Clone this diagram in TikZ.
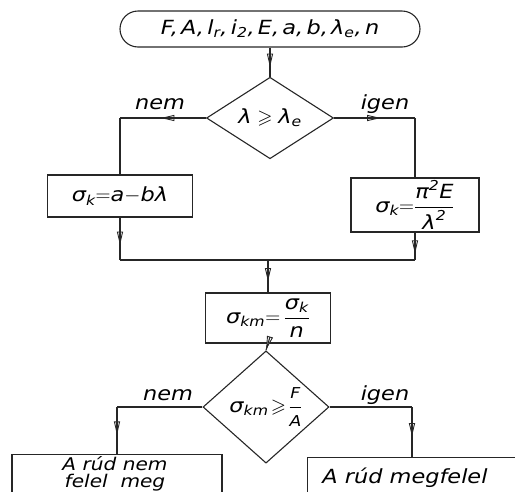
\documentclass[tikz,border=0pt]{standalone}
\usepackage{amsmath,amssymb}
\usepackage{fontspec}
\setmainfont{DejaVu Sans}
\usetikzlibrary{shapes.geometric,decorations.markings}
\newcommand\tx[1]{\text{#1}}
\newcommand\sm[1]{\text{\fontsize{15}{15}\selectfont #1}}
\newcommand\myfont{\fontsize{19.5}{22}\selectfont\itshape\addfontfeature{FakeStretch=1.15}}
\tikzset{
  lbl/.style={font=\myfont},
  ln/.style={line width=1.1pt, draw=black!85},
  boxnode/.style={draw=black!85, line width=1.1pt, inner sep=0pt, font=\myfont, align=center},
  decnode/.style={draw=black!85, line width=1.1pt, diamond, inner sep=0pt, font=\myfont},
  marr/.style={ln, postaction={decorate}, decoration={markings, mark=at position #1 with {\draw[line width=0.9pt, draw=black!85, fill=white] (-11pt,-2.6pt) -- (0pt,0pt) -- (-11pt,2.6pt) -- cycle; \draw[line width=1.1pt, draw=black!85] (-11pt,0pt) -- (0pt,0pt);}}}
}
\begin{document}
\begin{tikzpicture}[x=1pt,y=-1pt]
\useasboundingbox (0,0) rectangle (515,491);
\clip (0,0) rectangle (515,491);
% nodes
\node[boxnode, rounded corners=18pt, minimum width=300pt, minimum height=36pt] (start) at (270,29) {F,\,A,\,l\textsubscript{r},\,i\textsubscript{2},\,E,\,a,\,b,\,λ\textsubscript{e},\,n};
\node[decnode, minimum width=127pt, minimum height=54pt] (d1) at (270,118) {$\tx{λ}\geqslant\tx{λ}_{\tx{e}}$};
\node[boxnode, minimum width=145pt, minimum height=42pt] (b1) at (120,196) {$\tx{σ}_{\tx{k}}{=}\tx{a}{-}\tx{bλ}$};
\node[boxnode, minimum width=128pt, minimum height=54pt] (b2) at (415,205) {$\tx{σ}_{\tx{k}}{=}\dfrac{\tx{π}^{\tx{2}}\tx{E}}{\tx{λ}^{\tx{2}}}$};
\node[boxnode, minimum width=125pt, minimum height=50pt] (b3) at (268,318) {$\tx{σ}_{\tx{km}}{=}\,\dfrac{\tx{σ}_{\tx{k}}}{\tx{n}}$};
\node[decnode, minimum width=126pt, minimum height=60pt] (d2) at (266,407) {$\tx{σ}_{\tx{km}}\!\geqslant\!\dfrac{\sm{F}}{\sm{A}}$};
\node[boxnode, minimum width=210pt, minimum height=60pt, anchor=north] (b4) at (117,454) {};
\node[boxnode, minimum width=215pt, minimum height=60pt, anchor=north west] (b5) at (307,457) {};
\node[lbl, font=\fontsize{17.5}{17}\selectfont\itshape\addfontfeature{FakeStretch=1.15}, align=center, anchor=north, inner sep=1pt] (t4) at (115,455) {A rúd nem\\felel\ \ meg};
\node[lbl] (t5) at (405,478) {A rúd megfelel};
% labels
\node[lbl] (n1) at (160,104) {nem};
\node[lbl] (i1) at (385,104) {igen};
\node[lbl] (n2) at (168,395) {nem};
\node[lbl] (i2) at (385,395) {igen};
% coordinates
\coordinate (c1) at (b1.north |- d1.west);
\coordinate (c2) at (b2.north |- d1.east);
\coordinate (j1) at (b1.south |- 0,260);
\coordinate (j2) at (b2.south |- 0,260);
\coordinate (j3) at (b3.north |- 0,260);
\coordinate (c4) at (b4.north |- d2.west);
\coordinate (c5) at (b4.north -| 412,0);
\coordinate (c6) at (c5 |- d2.east);
% connectors
\draw[marr=0.6] (start) -- (d1);
\draw[marr=0.5] (d1.west) -- (c1);
\draw[ln] (c1) -- (b1.north);
\draw[marr=0.55] (d1.east) -- (c2);
\draw[ln] (c2) -- (b2.north);
\draw[marr=0.6] (b1.south) -- (j1);
\draw[marr=0.7] (b2.south) -- (j2);
\draw[ln] (j1) -- (j2);
\draw[marr=0.6] (j3) -- (b3.north);
\draw[marr=0.6] (b3.south) -- (d2.north);
\draw[ln] (d2.west) -- (c4);
\draw[marr=0.55] (c4) -- (b4.north);
\draw[ln] (d2.east) -- (c6);
\draw[marr=0.55] (c6) -- (b5.north -| c6);
\end{tikzpicture}
\end{document}
